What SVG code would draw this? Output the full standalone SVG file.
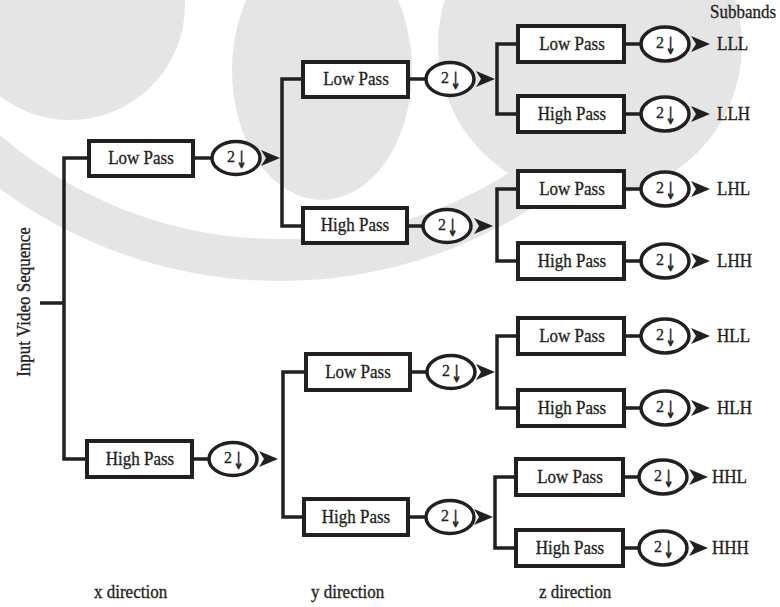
<svg xmlns="http://www.w3.org/2000/svg" xmlns:xlink="http://www.w3.org/1999/xlink" width="780" height="607" viewBox="0 0 780 607">
<style>
.wm{fill:#e5e5e5}
.wms{fill:none;stroke:#e5e5e5}
.box{fill:#fff;stroke:#231f20;stroke-width:4}
.ds{fill:#fff;stroke:#231f20;stroke-width:3.5}
.ln{fill:none;stroke:#231f20;stroke-width:3.5}
.t{font-family:'Liberation Serif','DejaVu Serif',serif;font-size:17px;fill:#231f20;stroke:#231f20;stroke-width:0.3}
.c{text-anchor:middle}
.two{font-family:'Liberation Serif','DejaVu Serif',serif;font-size:16px;fill:#231f20;stroke:#231f20;stroke-width:0.3}
.dn{font-family:'DejaVu Sans',sans-serif;font-size:18px;fill:#231f20;stroke:#231f20;stroke-width:0.6;text-anchor:middle}
.ah{fill:#231f20}
</style>
<defs>
<path id="ah" class="ah" d="M0,0 L-19,-8 L-14,0 L-19,8 Z"/>
</defs>
<rect width="780" height="607" fill="#fff"/>
<g id="watermark">
<circle class="wms" cx="280" cy="-190" r="450" stroke-width="42"/>
<circle class="wm" cx="70" cy="5" r="115"/>
<ellipse class="wm" cx="322" cy="70" rx="90" ry="130"/>
<circle class="wm" cx="590" cy="45" r="152"/>
</g>
<g id="connectors">
<path class="ln" d="M40,303 H64 M89,158 H64 V459 H87"/>
<path class="ln" d="M193,158 H212 M192,459 H209"/>
<path class="ln" d="M303,79 H282 V226 H303 M306,372 H283 V517 H304"/>
<path class="ln" d="M408,79 H426 M407,226 H423 M410,372 H427 M408,517 H426"/>
<path class="ln" d="M518,44 H497 V114 H518 M518,189 H497 V261 H518 M518,336 H497 V408 H518 M516,477 H495 V548 H516"/>
<path class="ln" d="M624,44 H641 M624,114 H641 M624,189 H641 M624,261 H641 M624,336 H641 M624,408 H641 M623,477 H639 M623,548 H639"/>
<use xlink:href="#ah" x="280" y="158"/>
<use xlink:href="#ah" x="278" y="459"/>
<use xlink:href="#ah" x="495" y="79"/>
<use xlink:href="#ah" x="493" y="226"/>
<use xlink:href="#ah" x="495" y="372"/>
<use xlink:href="#ah" x="493" y="517"/>
<use xlink:href="#ah" x="710" y="44"/>
<use xlink:href="#ah" x="710" y="114"/>
<use xlink:href="#ah" x="710" y="189"/>
<use xlink:href="#ah" x="710" y="261"/>
<use xlink:href="#ah" x="710" y="336"/>
<use xlink:href="#ah" x="710" y="408"/>
<use xlink:href="#ah" x="708" y="477"/>
<use xlink:href="#ah" x="708" y="548"/>
</g>
<g id="input"><text class="t c" transform="translate(30,302) rotate(-90) scale(1,1.1)">Input Video Sequence</text></g>
<g id="x_low"><rect class="box" x="89" y="141" width="104" height="35"/><text class="t c" transform="translate(141,164) scale(1,1.1)">Low Pass</text></g>
<g id="x_low_ds"><ellipse class="ds" cx="236" cy="158" rx="24" ry="16.5"/><text class="two" x="227" y="162">2</text><text class="dn" transform="translate(241.5,168) scale(0.7,1.3)">↓</text></g>
<g id="x_high"><rect class="box" x="87" y="441" width="105" height="36"/><text class="t c" transform="translate(140,465) scale(1,1.1)">High Pass</text></g>
<g id="x_high_ds"><ellipse class="ds" cx="233" cy="459" rx="24" ry="16.5"/><text class="two" x="224" y="463">2</text><text class="dn" transform="translate(238.5,469) scale(0.7,1.3)">↓</text></g>
<g id="y_L_low"><rect class="box" x="303" y="62" width="105" height="35"/><text class="t c" transform="translate(356,85) scale(1,1.1)">Low Pass</text></g>
<g id="y_L_low_ds"><ellipse class="ds" cx="450" cy="79" rx="24" ry="16.5"/><text class="two" x="441" y="83">2</text><text class="dn" transform="translate(455.5,89) scale(0.7,1.3)">↓</text></g>
<g id="y_L_high"><rect class="box" x="303" y="208" width="104" height="35"/><text class="t c" transform="translate(355,231) scale(1,1.1)">High Pass</text></g>
<g id="y_L_high_ds"><ellipse class="ds" cx="447" cy="226" rx="24" ry="16.5"/><text class="two" x="438" y="230">2</text><text class="dn" transform="translate(452.5,236) scale(0.7,1.3)">↓</text></g>
<g id="y_H_low"><rect class="box" x="306" y="354" width="104" height="36"/><text class="t c" transform="translate(358,378) scale(1,1.1)">Low Pass</text></g>
<g id="y_H_low_ds"><ellipse class="ds" cx="451" cy="372" rx="24" ry="16.5"/><text class="two" x="442" y="376">2</text><text class="dn" transform="translate(456.5,382) scale(0.7,1.3)">↓</text></g>
<g id="y_H_high"><rect class="box" x="304" y="499" width="104" height="36"/><text class="t c" transform="translate(356,523) scale(1,1.1)">High Pass</text></g>
<g id="y_H_high_ds"><ellipse class="ds" cx="450" cy="517" rx="24" ry="16.5"/><text class="two" x="441" y="521">2</text><text class="dn" transform="translate(455.5,527) scale(0.7,1.3)">↓</text></g>
<g id="z_LLL"><rect class="box" x="518" y="26" width="106" height="36"/><text class="t c" transform="translate(572,50) scale(1,1.1)">Low Pass</text></g>
<g id="z_LLL_ds"><ellipse class="ds" cx="665" cy="44" rx="24" ry="17"/><text class="two" x="656" y="48">2</text><text class="dn" transform="translate(670.5,54) scale(0.7,1.3)">↓</text><text class="t" transform="translate(717,50) scale(1,1.1)">LLL</text></g>
<g id="z_LLH"><rect class="box" x="518" y="96" width="106" height="36"/><text class="t c" transform="translate(572,120) scale(1,1.1)">High Pass</text></g>
<g id="z_LLH_ds"><ellipse class="ds" cx="665" cy="114" rx="24" ry="17"/><text class="two" x="656" y="118">2</text><text class="dn" transform="translate(670.5,124) scale(0.7,1.3)">↓</text><text class="t" transform="translate(717,120) scale(1,1.1)">LLH</text></g>
<g id="z_LHL"><rect class="box" x="518" y="171" width="106" height="36"/><text class="t c" transform="translate(572,195) scale(1,1.1)">Low Pass</text></g>
<g id="z_LHL_ds"><ellipse class="ds" cx="665" cy="189" rx="24" ry="17"/><text class="two" x="656" y="193">2</text><text class="dn" transform="translate(670.5,199) scale(0.7,1.3)">↓</text><text class="t" transform="translate(717,195) scale(1,1.1)">LHL</text></g>
<g id="z_LHH"><rect class="box" x="518" y="243" width="106" height="36"/><text class="t c" transform="translate(572,267) scale(1,1.1)">High Pass</text></g>
<g id="z_LHH_ds"><ellipse class="ds" cx="665" cy="261" rx="24" ry="17"/><text class="two" x="656" y="265">2</text><text class="dn" transform="translate(670.5,271) scale(0.7,1.3)">↓</text><text class="t" transform="translate(717,267) scale(1,1.1)">LHH</text></g>
<g id="z_HLL"><rect class="box" x="518" y="318" width="106" height="36"/><text class="t c" transform="translate(572,342) scale(1,1.1)">Low Pass</text></g>
<g id="z_HLL_ds"><ellipse class="ds" cx="665" cy="336" rx="24" ry="17"/><text class="two" x="656" y="340">2</text><text class="dn" transform="translate(670.5,346) scale(0.7,1.3)">↓</text><text class="t" transform="translate(717,342) scale(1,1.1)">HLL</text></g>
<g id="z_HLH"><rect class="box" x="518" y="390" width="106" height="36"/><text class="t c" transform="translate(572,414) scale(1,1.1)">High Pass</text></g>
<g id="z_HLH_ds"><ellipse class="ds" cx="665" cy="408" rx="24" ry="17"/><text class="two" x="656" y="412">2</text><text class="dn" transform="translate(670.5,418) scale(0.7,1.3)">↓</text><text class="t" transform="translate(717,414) scale(1,1.1)">HLH</text></g>
<g id="z_HHL"><rect class="box" x="516" y="459" width="107" height="36"/><text class="t c" transform="translate(570,483) scale(1,1.1)">Low Pass</text></g>
<g id="z_HHL_ds"><ellipse class="ds" cx="663" cy="477" rx="24" ry="17"/><text class="two" x="654" y="481">2</text><text class="dn" transform="translate(668.5,487) scale(0.7,1.3)">↓</text><text class="t" transform="translate(712,483) scale(1,1.1)">HHL</text></g>
<g id="z_HHH"><rect class="box" x="516" y="530" width="107" height="36"/><text class="t c" transform="translate(570,554) scale(1,1.1)">High Pass</text></g>
<g id="z_HHH_ds"><ellipse class="ds" cx="663" cy="548" rx="24" ry="17"/><text class="two" x="654" y="552">2</text><text class="dn" transform="translate(668.5,558) scale(0.7,1.3)">↓</text><text class="t" transform="translate(712,554) scale(1,1.1)">HHH</text></g>
<g id="labels">
<text class="t" transform="translate(710,18) scale(1,1.1)">Subbands</text>
<text class="t" transform="translate(94,598) scale(1,1.1)">x direction</text>
<text class="t" transform="translate(311,598) scale(1,1.1)">y direction</text>
<text class="t" transform="translate(539,598) scale(1,1.1)">z direction</text>
</g>
</svg>
